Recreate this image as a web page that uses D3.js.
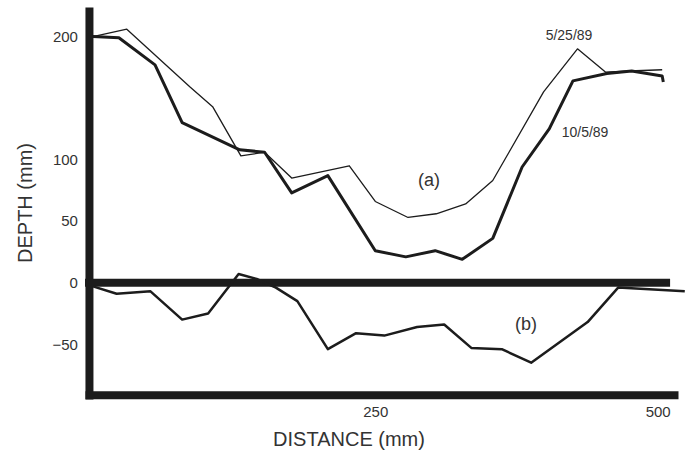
<!DOCTYPE html>
<html>
<head>
<meta charset="utf-8">
<script src="https://cdn.jsdelivr.net/npm/d3@7"></script>
<style>
  body { margin: 0; background: #fff; }
  svg { display: block; font-family: "Liberation Sans", Arial, sans-serif; }
</style>
</head>
<body>
<svg id="chart" width="688" height="452"></svg>
<script>
// profile of 5/25/89 (thin line)
const mayDistance = [0, 30, 86, 106, 131, 152, 176, 227, 250, 279, 304, 330, 354, 399, 429, 454, 475, 504];
const mayDepth = [200, 206, 159, 143, 103, 106, 85, 95, 66, 53, 56, 64, 83, 155, 190, 171, 172, 173];

// profile of 10/5/89 (thick line)
const octDistance = [0, 23, 55, 79, 130, 152, 176, 208, 250, 277, 303, 327, 354, 380, 404, 425, 455, 477, 504, 505];
const octDepth = [200, 199, 177, 130, 108, 106, 73, 87, 26, 21, 26, 19, 36, 94, 125, 164, 170, 172, 168, 163];

// (b) change between the two surveys
const diffDistance = [0, 21, 51, 79, 102, 129, 145, 162, 181, 208, 233, 258, 287, 311, 335, 362, 388, 438, 465, 524];
const diffDepth = [-3, -9, -7, -30, -25, 7, 3, -4, -15, -54, -41, -43, -36, -34, -53, -54, -65, -32, -4, -7];

const yTicks = [200, 100, 50, 0, -50];
const xTicks = [250, 500];

const svg = d3.select("#chart");

const x = d3.scaleLinear().domain([-7, 518]).range([85, 678]);
const y = d3.scaleLinear().domain([-94.5, 224]).range([399, 7]);

const ink = "#1c1c1c";
const textInk = "#333";

// axes as heavy bars
const yAxis = svg.append("g")
  .attr("transform", `translate(${x(-3.5)},0)`)
  .call(d3.axisLeft(y).tickValues(yTicks).tickSize(0).tickPadding(11).tickFormat(d3.format("d")));

const xAxis = svg.append("g")
  .attr("transform", `translate(0,${y(-91)})`)
  .call(d3.axisBottom(x).tickValues(xTicks).tickSize(0).tickPadding(12));

[yAxis, xAxis].forEach(g => {
  g.select(".domain").attr("stroke", ink).attr("stroke-width", 8);
  g.selectAll("text")
    .attr("fill", textInk)
    .style("font-size", "15px")
    .style("font-family", "'Liberation Sans', Arial, sans-serif");
});

// zero line
svg.append("line")
  .attr("x1", x(-7)).attr("x2", x(511))
  .attr("y1", y(0)).attr("y2", y(0))
  .attr("stroke", ink)
  .attr("stroke-width", 8);

const line = d3.line()
  .x(d => x(d[0]))
  .y(d => y(d[1]));

function drawSeries(dist, vals, width) {
  svg.append("path")
    .datum(d3.zip(dist, vals))
    .attr("d", line)
    .attr("fill", "none")
    .attr("stroke", ink)
    .attr("stroke-width", width)
    .attr("stroke-linejoin", "round");
}

drawSeries(mayDistance, mayDepth, 1.3);
drawSeries(octDistance, octDepth, 3);
drawSeries(diffDistance, diffDepth, 2.5);

// annotations
const notes = [
  { t: "5/25/89", d: 421.5, v: 197, size: 14 },
  { t: "10/5/89", d: 435.7, v: 118.5, size: 14 },
  { t: "(a)", d: 297.6, v: 78.6, size: 18 },
  { t: "(b)", d: 383.4, v: -38.4, size: 18 }
];

svg.selectAll("text.note")
  .data(notes)
  .join("text")
  .attr("class", "note")
  .attr("x", d => x(d.d))
  .attr("y", d => y(d.v))
  .attr("text-anchor", "middle")
  .attr("fill", textInk)
  .style("font-size", d => d.size + "px")
  .text(d => d.t);

// axis titles
svg.append("text")
  .attr("x", 349)
  .attr("y", 446)
  .attr("text-anchor", "middle")
  .attr("fill", textInk)
  .style("font-size", "20px")
  .text("DISTANCE (mm)");

svg.append("text")
  .attr("transform", "translate(32,203) rotate(-90)")
  .attr("text-anchor", "middle")
  .attr("fill", textInk)
  .style("font-size", "20px")
  .text("DEPTH (mm)");
</script>
</body>
</html>
